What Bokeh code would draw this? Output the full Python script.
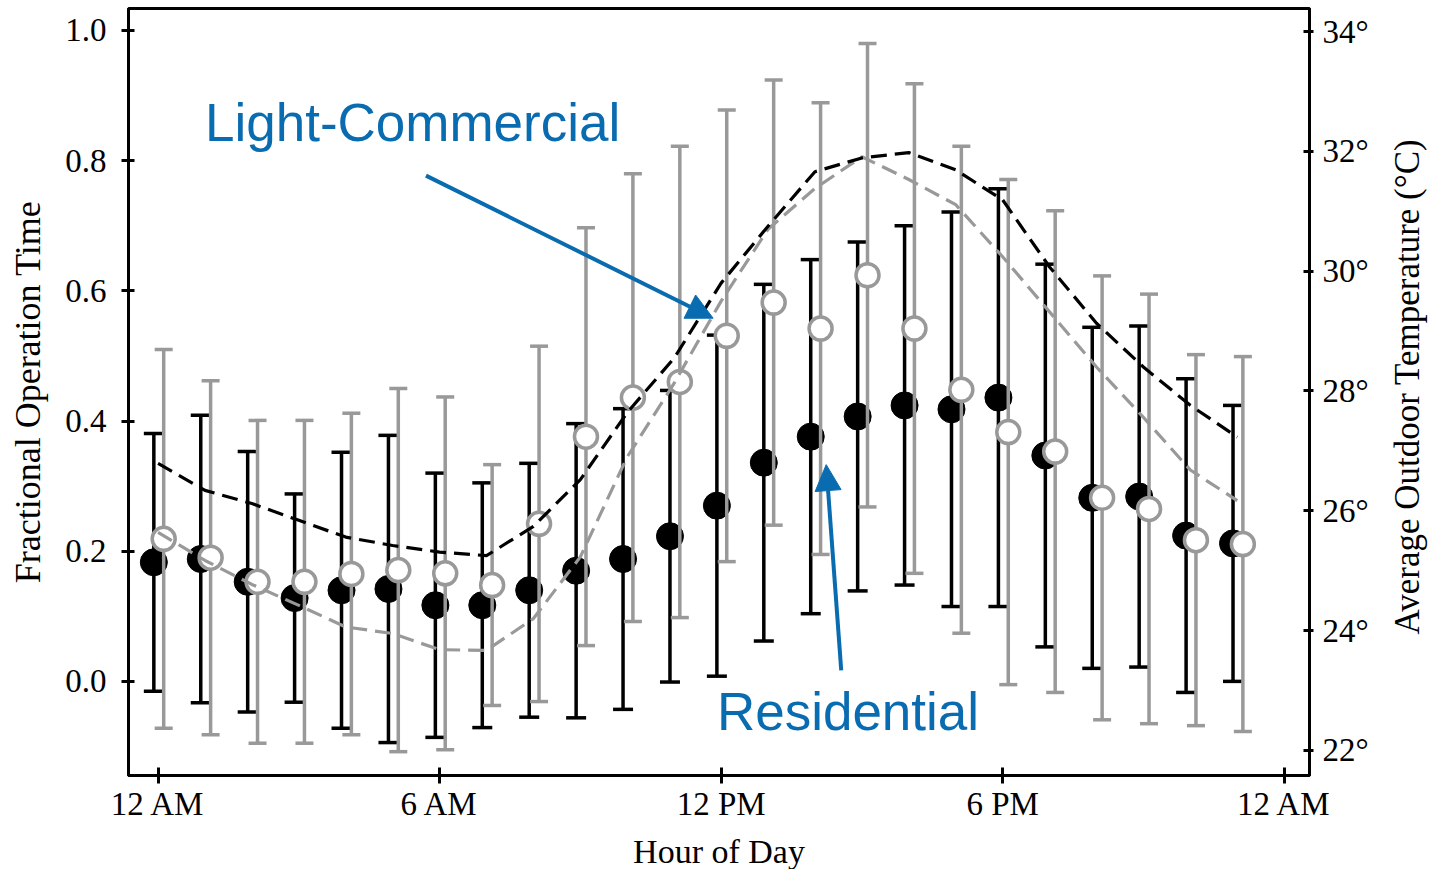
import math
from bokeh.plotting import figure
from bokeh.layouts import row
from bokeh.models import (Range1d, LinearAxis, FixedTicker, Arrow, NormalHead,
                          Label, NumeralTickFormatter)
from bokeh.embed import file_html
from bokeh.resources import INLINE

# ---------------- data ----------------
hours = list(range(24))
x_tick_values = [0, 6, 12, 18, 24]
x_tick_labels = ["12 AM", "6 AM", "12 PM", "6 PM", "12 AM"]
y_tick_values = [0.0, 0.2, 0.4, 0.6, 0.8, 1.0]
temp_tick_values = [22, 24, 26, 28, 30, 32, 34]

# Residential (black, filled): mean fractional operation time and +/- error
res_mean = [0.183, 0.188, 0.153, 0.128, 0.140, 0.142, 0.117, 0.117, 0.140, 0.170,
            0.188, 0.223, 0.270, 0.336, 0.376, 0.407, 0.424, 0.418, 0.436, 0.347,
            0.282, 0.284, 0.224, 0.212]
res_err = [0.198, 0.221, 0.200, 0.160, 0.212, 0.236, 0.203, 0.188, 0.195, 0.226,
           0.231, 0.224, 0.262, 0.274, 0.272, 0.268, 0.276, 0.303, 0.321, 0.294,
           0.262, 0.262, 0.241, 0.212]

# Light-Commercial (grey, open)
lc_mean = [0.219, 0.190, 0.153, 0.153, 0.165, 0.171, 0.166, 0.148, 0.242, 0.376,
           0.436, 0.460, 0.531, 0.582, 0.542, 0.624, 0.542, 0.448, 0.383, 0.353,
           0.282, 0.265, 0.217, 0.211]
lc_err = [0.291, 0.272, 0.248, 0.248, 0.247, 0.279, 0.271, 0.185, 0.273, 0.321,
          0.344, 0.362, 0.347, 0.342, 0.347, 0.356, 0.376, 0.374, 0.388, 0.370,
          0.341, 0.330, 0.285, 0.288]

# Average outdoor temperature (deg C)
res_temp = [26.79, 26.34, 26.12, 25.84, 25.56, 25.42, 25.31, 25.25, 25.74, 26.52,
            27.64, 28.55, 29.80, 30.75, 31.66, 31.89, 31.98, 31.69, 31.19, 30.07,
            29.13, 28.40, 27.76, 27.23]
lc_temp = [25.64, 25.17, 24.77, 24.42, 24.06, 23.95, 23.68, 23.67, 24.20, 25.23,
           26.90, 28.13, 29.50, 30.70, 31.38, 31.91, 31.53, 31.11, 30.24, 29.32,
           28.40, 27.56, 26.68, 26.17]

right_title = "Average Outdoor Temperature (°C)"

# ---------------- styles ----------------
BLACK = "#000000"
GREY = "#999999"
BLUE = "#0a6cb0"
SERIF = "Liberation Serif"
SANS = "Liberation Sans"

res_x = [h - 0.09 for h in hours]
lc_x = [h + 0.12 for h in hours]
res_up = [m + e for m, e in zip(res_mean, res_err)]
res_lo = [m - e for m, e in zip(res_mean, res_err)]
lc_up = [m + e for m, e in zip(lc_mean, lc_err)]
lc_lo = [m - e for m, e in zip(lc_mean, lc_err)]

p = figure(frame_width=1181, frame_height=767,
           min_border_left=128, min_border_right=78,
           min_border_top=8, min_border_bottom=94,
           x_range=Range1d(-0.63, 24.54), y_range=Range1d(-0.1446, 1.0338),
           output_backend="svg", toolbar_location=None)
p.extra_y_ranges = {"temp": Range1d(21.58, 34.385)}

p.grid.visible = False
p.outline_line_color = BLACK
p.outline_line_width = 3
p.outline_line_alpha = 1.0
p.background_fill_color = "white"
p.border_fill_color = "white"

# x axis
xa = p.xaxis[0]
xa.ticker = FixedTicker(ticks=x_tick_values)
xa.major_label_overrides = {v: l for v, l in zip(x_tick_values, x_tick_labels)}
xa.axis_label = "Hour of Day"

# left axis
ya = p.yaxis[0]
ya.ticker = FixedTicker(ticks=y_tick_values)
ya.formatter = NumeralTickFormatter(format="0.0")
ya.axis_label = "Fractional Operation Time"

# right axis
ra = LinearAxis(y_range_name="temp", ticker=FixedTicker(ticks=temp_tick_values))
ra.major_label_overrides = {t: f"{t}°" for t in temp_tick_values}
p.add_layout(ra, "right")

for ax in (xa, ya, ra):
    ax.axis_line_width = 3
    ax.axis_line_color = BLACK
    ax.major_tick_line_width = 3
    ax.major_tick_line_color = BLACK
    ax.minor_tick_line_color = None
    ax.major_label_text_font = SERIF
    ax.major_label_text_font_size = "33px"
    ax.major_label_text_color = BLACK
    ax.axis_label_text_font = SERIF
    ax.axis_label_text_font_style = "normal"
    ax.axis_label_text_color = BLACK

xa.axis_label_text_font_size = "34px"
ya.axis_label_text_font_size = "36px"

xa.major_tick_in = 8
xa.major_tick_out = 8
xa.major_label_standoff = 2
xa.axis_label_standoff = 8
ya.major_tick_in = 6
ya.major_tick_out = 7
ya.major_label_standoff = 15
ya.axis_label_standoff = 14
ra.major_tick_in = 6
ra.major_tick_out = 4
ra.major_label_standoff = 9

# ---------------- residential (black) ----------------
p.segment(x0=res_x, y0=res_lo, x1=res_x, y1=res_up, line_color=BLACK, line_width=3.5)
p.scatter(res_x, res_up, marker="dash", size=20, line_color=BLACK, line_width=3.5)
p.scatter(res_x, res_lo, marker="dash", size=20, line_color=BLACK, line_width=3.5)
p.scatter(res_x, res_mean, marker="circle", size=27, fill_color=BLACK, line_color=BLACK)

# ---------------- light commercial (grey) ----------------
p.segment(x0=lc_x, y0=lc_lo, x1=lc_x, y1=lc_up, line_color=GREY, line_width=3.5)
p.scatter(lc_x, lc_up, marker="dash", size=18, line_color=GREY, line_width=3.5)
p.scatter(lc_x, lc_lo, marker="dash", size=18, line_color=GREY, line_width=3.5)
p.scatter(lc_x, lc_mean, marker="circle", size=23, fill_color="white",
          line_color=GREY, line_width=3.5)

# ---------------- temperatures ----------------
p.line(hours, lc_temp, y_range_name="temp", line_color=GREY, line_width=3.2,
       line_dash="16 8")
p.line(hours, res_temp, y_range_name="temp", line_color=BLACK, line_width=3.2,
       line_dash="16 8")

# ---------------- annotations ----------------
p.add_layout(Label(x=1.0, y=0.858, text="Light-Commercial", text_font=SANS,
                   text_font_size="53px", text_color=BLUE, text_baseline="middle"))
p.add_layout(Label(x=11.91, y=-0.046, text="Residential", text_font=SANS,
                   text_font_size="53px", text_color=BLUE, text_baseline="middle"))
p.add_layout(Arrow(end=NormalHead(size=26, fill_color=BLUE, line_color=BLUE),
                   x_start=5.71, y_start=0.777, x_end=11.83, y_end=0.558,
                   line_color=BLUE, line_width=4))
p.add_layout(Arrow(end=NormalHead(size=26, fill_color=BLUE, line_color=BLUE),
                   x_start=14.56, y_start=0.017, x_end=14.24, y_end=0.333,
                   line_color=BLUE, line_width=4))

# ---------------- right-hand axis title panel ----------------
q = figure(width=48, height=869, min_border=0,
           x_range=Range1d(0, 48), y_range=Range1d(0, 869),
           x_axis_type=None, y_axis_type=None,
           output_backend="svg", toolbar_location=None)
q.grid.visible = False
q.outline_line_color = None
q.background_fill_color = "white"
q.border_fill_color = "white"
q.add_layout(Label(x=20, y=439, text=right_title, angle=math.pi / 2,
                   text_font=SERIF, text_font_size="35px", text_color=BLACK,
                   text_align="center", text_baseline="middle"))

layout = row(p, q, spacing=0)
open("out.html", "w").write(file_html(layout, INLINE))
